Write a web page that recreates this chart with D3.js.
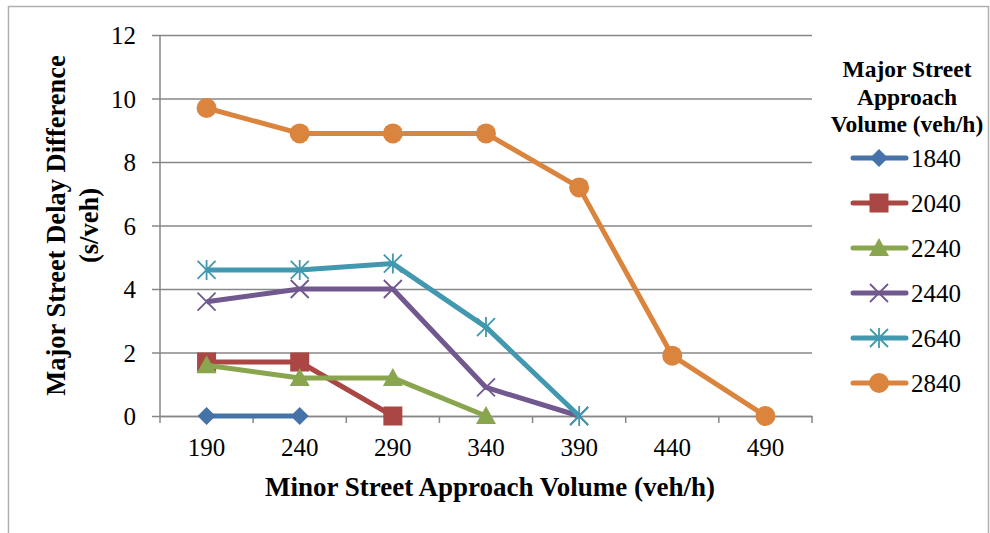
<!DOCTYPE html>
<html>
<head>
<meta charset="utf-8">
<script src="https://cdn.jsdelivr.net/npm/d3@7"></script>
<style>
  body { margin: 0; background: #fff; }
  text { font-family: "Liberation Serif", "Times New Roman", serif; fill: #000; }
</style>
</head>
<body>
<div class="chart"></div>
<script>
// data
var minorVolumes = ["190", "240", "290", "340", "390", "440", "490"];
var yTicks = [0, 2, 4, 6, 8, 10, 12];
var seriesNames = ["1840", "2040", "2240", "2440", "2640", "2840"];
var s1840 = [0, 0];
var s2040 = [1.7, 1.7, 0];
var s2240 = [1.6, 1.2, 1.2, 0];
var s2440 = [3.6, 4.0, 4.0, 0.9, 0];
var s2640 = [4.6, 4.6, 4.8, 2.8, 0];
var s2840 = [9.7, 8.9, 8.9, 8.9, 7.2, 1.9, 0];

var colors = ["#4572A7", "#AA4643", "#89A54E", "#71588F", "#4198AF", "#DB843D"];
var markers = ["diamond", "square", "triangle", "x", "star", "circle"];

var allSeries = [s1840, s2040, s2240, s2440, s2640, s2840].map(function (vals, i) {
  return {
    name: seriesNames[i],
    color: colors[i],
    marker: markers[i],
    values: vals.map(function (v, j) { return { x: minorVolumes[j], y: v }; })
  };
});

var svgWidth = 990, svgHeight = 533;

var svg = d3.select(".chart")
  .append("svg")
  .attr("width", svgWidth)
  .attr("height", svgHeight);

// outer chart frame
svg.append("rect")
  .attr("x", 8.5).attr("y", 6.5)
  .attr("width", 980).attr("height", 540)
  .attr("fill", "none")
  .attr("stroke", "#b0b0b0")
  .attr("stroke-width", 1.5);

var plot = { left: 160, right: 812, top: 35, bottom: 416 };

var xScale = d3.scaleBand()
  .domain(minorVolumes)
  .range([plot.left, plot.right])
  .padding(0);

var yScale = d3.scaleLinear()
  .domain([0, 12])
  .range([plot.bottom, plot.top]);

var gridColor = "#878787";

// gridlines + y axis
var yAxis = d3.axisLeft(yScale)
  .tickValues(yTicks)
  .tickSize(-(plot.right - plot.left))
  .tickSizeOuter(0)
  .tickPadding(24);

var yG = svg.append("g")
  .attr("transform", `translate(${plot.left}, 0)`)
  .call(yAxis);
yG.select(".domain").remove();
yG.selectAll(".tick line")
  .attr("stroke", gridColor)
  .attr("stroke-width", 1.5)
  .attr("x1", -8);
yG.selectAll(".tick text")
  .attr("font-size", 25)
  .attr("font-family", "Liberation Serif")
  .attr("dy", "0.34em");

// y axis line
svg.append("line")
  .attr("x1", plot.left).attr("x2", plot.left)
  .attr("y1", plot.top).attr("y2", plot.bottom)
  .attr("stroke", gridColor)
  .attr("stroke-width", 1.5);

// x axis
var xAxis = d3.axisBottom(xScale).tickSize(0).tickPadding(22);
var xG = svg.append("g")
  .attr("transform", `translate(0, ${plot.bottom})`)
  .call(xAxis);
xG.select(".domain").attr("stroke", gridColor).attr("stroke-width", 1.5);
xG.selectAll(".tick text")
  .attr("font-size", 25)
  .attr("font-family", "Liberation Serif");

// x tick marks sit on category boundaries
var boundaries = minorVolumes.map(function (d) { return xScale(d); })
  .concat([xScale(minorVolumes[minorVolumes.length - 1]) + xScale.bandwidth()]);
svg.append("g").selectAll("line")
  .data(boundaries)
  .enter()
  .append("line")
  .attr("x1", d => d).attr("x2", d => d)
  .attr("y1", plot.bottom).attr("y2", plot.bottom + 7)
  .attr("stroke", gridColor)
  .attr("stroke-width", 1.5);

// axis titles
svg.append("text")
  .attr("x", 490)
  .attr("y", 496)
  .attr("text-anchor", "middle")
  .attr("font-weight", "bold")
  .attr("font-size", 27)
  .text("Minor Street Approach Volume (veh/h)");

var yTitle = svg.append("text")
  .attr("transform", `translate(0, ${(plot.top + plot.bottom) / 2}) rotate(-90)`)
  .attr("text-anchor", "middle")
  .attr("font-weight", "bold")
  .attr("font-size", 26.5);
yTitle.append("tspan").attr("x", 0).attr("y", 65).text("Major Street Delay Difference");
yTitle.append("tspan").attr("x", 0).attr("y", 98).text("(s/veh)");

// marker drawing
function drawMarker(g, type, color) {
  if (type === "diamond") {
    g.append("path").attr("d", "M0,-9L9,0L0,9L-9,0Z").attr("fill", color);
  } else if (type === "square") {
    g.append("rect").attr("x", -9.5).attr("y", -9.5).attr("width", 19).attr("height", 19).attr("fill", color);
  } else if (type === "triangle") {
    g.append("path").attr("d", "M0,-10L10,8L-10,8Z").attr("fill", color);
  } else if (type === "x") {
    g.append("path").attr("d", "M-9,-9L9,9M-9,9L9,-9").attr("stroke", color).attr("stroke-width", 1.8).attr("fill", "none");
  } else if (type === "star") {
    g.append("path").attr("d", "M-9,-9L9,9M-9,9L9,-9M0,-10L0,10").attr("stroke", color).attr("stroke-width", 1.8).attr("fill", "none");
  } else if (type === "circle") {
    g.append("circle").attr("r", 10).attr("fill", color);
  }
}

var line = d3.line()
  .x(d => xScale(d.x) + xScale.bandwidth() / 2)
  .y(d => yScale(d.y));

var seriesG = svg.selectAll(".series")
  .data(allSeries)
  .enter()
  .append("g")
  .attr("class", "series");

seriesG.append("path")
  .attr("d", d => line(d.values))
  .attr("fill", "none")
  .attr("stroke", d => d.color)
  .attr("stroke-width", 5)
  .attr("stroke-linejoin", "round");

seriesG.each(function (s) {
  d3.select(this).selectAll(".pt")
    .data(s.values)
    .enter()
    .append("g")
    .attr("class", "pt")
    .attr("transform", d => `translate(${xScale(d.x) + xScale.bandwidth() / 2}, ${yScale(d.y)})`)
    .each(function () { drawMarker(d3.select(this), s.marker, s.color); });
});

// legend
var legend = svg.append("g");
var legendTitle = legend.append("text")
  .attr("text-anchor", "middle")
  .attr("font-weight", "bold")
  .attr("font-size", 23.5);
["Major Street", "Approach", "Volume (veh/h)"].forEach(function (t, i) {
  legendTitle.append("tspan").attr("x", 907).attr("y", 77 + i * 27.5).text(t);
});

var items = legend.selectAll(".item")
  .data(allSeries)
  .enter()
  .append("g")
  .attr("class", "item")
  .attr("transform", (d, i) => `translate(0, ${158 + i * 45})`);

items.append("line")
  .attr("x1", 853).attr("x2", 906)
  .attr("stroke", d => d.color)
  .attr("stroke-width", 5)
  .attr("stroke-linecap", "round");

items.each(function (d) {
  var g = d3.select(this).append("g").attr("transform", "translate(879, 0)");
  drawMarker(g, d.marker, d.color);
});

items.append("text")
  .attr("x", 911)
  .attr("dy", "0.34em")
  .attr("font-size", 25)
  .text(d => d.name);
</script>
</body>
</html>
